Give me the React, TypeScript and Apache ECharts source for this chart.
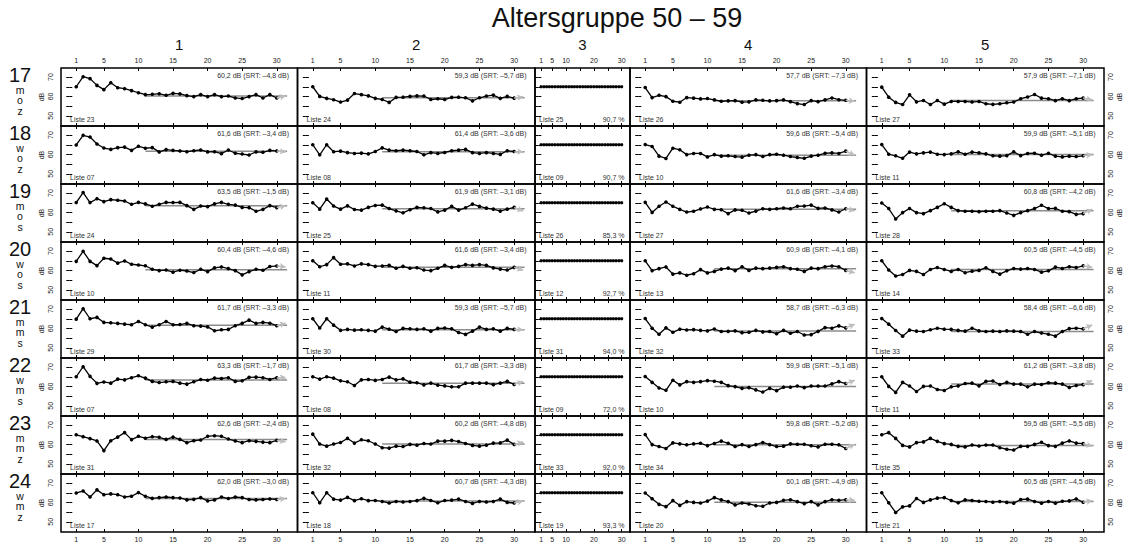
import React, { useEffect, useRef } from 'react';
import * as echarts from 'echarts';

const FONT = '"Liberation Sans", Arial, Helvetica, sans-serif';

// ---- labels ----
const groupTitle = 'Altersgruppe 50 – 59';
const columnLabels = ['1', '2', '3', '4', '5'];
const rowIds = ['17', '18', '19', '20', '21', '22', '23', '24'];
const rowCodes = [
  ['m', 'o', 'z'], ['w', 'o', 'z'], ['m', 'o', 's'], ['w', 'o', 's'],
  ['m', 'm', 's'], ['w', 'm', 's'], ['m', 'm', 'z'], ['w', 'm', 'z'],
];
const trialTicks = [1, 5, 10, 15, 20, 25, 30];
const trialLabelsNarrow = [1, 5, 10, 20, 30];
const levelTicks = [50, 55, 60, 65, 70];
const levelLabels = [50, 60, 70];
const noiseLevel = 65;

// ---- test lists per column ----
const listsCol1 = ['23', '07', '24', '10', '29', '07', '31', '17'];
const listsCol2 = ['24', '08', '25', '11', '30', '08', '32', '18'];
const listsCol3 = ['25', '09', '26', '12', '31', '09', '33', '19'];
const listsCol4 = ['26', '10', '27', '13', '32', '10', '34', '20'];
const listsCol5 = ['27', '11', '28', '14', '33', '11', '35', '21'];

// ---- final speech levels (dB), mean of trials 11-30 ----
const thresholdsCol1 = [60.2, 61.6, 63.5, 60.4, 61.7, 63.3, 62.6, 62.0];
const thresholdsCol2 = [59.3, 61.4, 61.9, 61.6, 59.3, 61.7, 60.2, 60.7];
const thresholdsCol4 = [57.7, 59.6, 61.6, 60.9, 58.7, 59.9, 59.8, 60.1];
const thresholdsCol5 = [57.9, 59.9, 60.8, 60.5, 58.4, 61.2, 59.5, 60.5];

// ---- level that would follow trial 30 ----
const nextLevelCol1 = [60.2, 61.3, 63.5, 61.8, 62.7, 64.7, 61.4, 62.0];
const nextLevelCol2 = [59.8, 61.4, 60.7, 60.1, 59.3, 62.6, 61.2, 60.7];
const nextLevelCol4 = [57.5, 59.6, 60.9, 58.8, 62.1, 63.2, 60.1, 61.1];
const nextLevelCol5 = [58.2, 59.9, 61.7, 61.5, 61.8, 63.1, 59.0, 61.0];

// ---- fixed-level word test ----
const fixedLevels = [65, 65, 65, 65, 65, 65, 65, 65, 65, 65, 65, 65, 65, 65, 65, 65, 65, 65, 65, 65, 65, 65, 65, 65, 65, 65, 65, 65, 65, 65];
const scoresCol3 = [90.7, 90.7, 85.3, 92.7, 94.0, 72.0, 92.0, 93.3];

// ---- adaptive tracks, 30 trials each ----
const levels17_1 = [65.0, 70.2, 69.2, 65.7, 63.5, 67.1, 64.5, 64.0, 63.0, 61.9, 60.9, 61.1, 61.4, 60.6, 61.6, 61.3, 60.4, 59.9, 60.9, 59.9, 60.9, 59.9, 60.2, 59.2, 58.9, 59.9, 60.9, 59.2, 60.9, 59.2];
const levels18_1 = [64.9, 69.9, 69.0, 65.4, 63.3, 62.6, 63.5, 63.8, 62.1, 64.2, 63.2, 63.5, 61.3, 62.5, 62.1, 61.8, 61.4, 61.9, 62.3, 61.3, 61.4, 60.4, 62.3, 60.6, 60.2, 59.7, 61.3, 61.1, 62.1, 61.8];
const levels19_1 = [65.1, 70.3, 65.1, 67.1, 65.6, 66.6, 66.3, 65.9, 64.2, 65.2, 64.4, 63.2, 64.2, 65.2, 65.1, 65.2, 63.5, 61.6, 63.3, 63.0, 64.4, 65.2, 64.2, 63.8, 62.6, 62.5, 60.6, 61.6, 63.5, 62.5];
const levels20_1 = [64.7, 69.9, 64.7, 62.5, 66.3, 65.9, 63.8, 64.9, 63.2, 62.8, 62.4, 60.6, 59.9, 60.2, 59.1, 60.1, 59.7, 58.9, 60.6, 59.4, 61.3, 61.8, 60.9, 59.9, 57.7, 59.4, 60.6, 60.1, 62.0, 62.3];
const levels21_1 = [64.8, 70.2, 65.0, 65.7, 63.1, 62.9, 62.6, 62.2, 61.9, 63.6, 61.9, 60.7, 61.9, 63.6, 61.9, 62.0, 62.6, 61.4, 61.2, 60.8, 58.8, 59.3, 59.5, 61.4, 62.6, 64.3, 62.6, 63.1, 62.7, 61.4];
const levels22_1 = [65.0, 70.2, 65.2, 61.6, 62.3, 61.7, 63.8, 63.4, 64.5, 65.5, 64.3, 62.6, 62.0, 62.4, 62.6, 61.7, 61.2, 62.4, 63.6, 63.2, 64.3, 64.1, 64.5, 62.6, 62.9, 64.7, 64.8, 64.5, 63.6, 64.5];
const levels23_1 = [65.0, 64.0, 63.0, 61.8, 56.8, 61.9, 63.8, 66.1, 62.5, 64.2, 63.2, 64.0, 63.7, 62.6, 63.8, 62.6, 60.9, 61.9, 62.3, 64.2, 64.5, 64.2, 62.8, 61.8, 60.9, 61.9, 61.6, 61.2, 60.9, 62.1];
const levels24_1 = [64.9, 65.9, 62.8, 66.5, 64.0, 64.4, 64.0, 62.8, 63.2, 65.1, 63.2, 62.1, 62.5, 62.8, 62.5, 62.3, 61.3, 61.6, 62.5, 60.8, 61.3, 62.8, 62.0, 62.8, 62.5, 61.5, 61.3, 61.5, 61.8, 61.5];

const levels17_2 = [65.0, 60.0, 59.0, 58.3, 57.1, 58.1, 61.5, 60.9, 60.3, 59.0, 58.4, 56.9, 59.5, 59.6, 60.0, 60.3, 60.2, 58.4, 58.8, 58.4, 59.5, 59.6, 59.3, 57.7, 59.3, 60.2, 60.7, 59.0, 60.0, 59.1];
const levels18_2 = [65.0, 59.8, 65.0, 61.4, 61.7, 60.9, 60.5, 60.7, 60.3, 61.5, 63.4, 62.2, 61.9, 62.2, 61.9, 61.5, 59.8, 60.9, 60.5, 61.0, 61.9, 62.2, 62.6, 60.9, 60.5, 60.9, 60.5, 60.0, 61.9, 61.5];
const levels19_2 = [65.0, 61.7, 66.9, 63.3, 61.7, 63.4, 61.5, 61.2, 62.6, 63.6, 63.8, 62.0, 60.8, 59.8, 61.4, 62.6, 62.4, 62.0, 60.3, 61.2, 63.1, 61.2, 62.4, 64.3, 63.1, 62.2, 61.7, 60.7, 61.7, 62.6];
const levels20_2 = [65.0, 61.9, 63.0, 66.6, 63.2, 63.4, 62.3, 63.4, 63.0, 62.1, 62.3, 62.6, 61.1, 62.1, 61.1, 61.4, 60.2, 59.9, 61.1, 62.6, 61.6, 62.1, 63.0, 62.6, 63.0, 62.6, 61.3, 60.7, 60.2, 61.6];
const levels21_2 = [65.0, 60.2, 65.0, 61.7, 59.0, 59.5, 59.1, 59.3, 59.0, 58.6, 60.7, 59.6, 58.4, 60.0, 59.8, 59.5, 59.8, 58.6, 60.0, 60.2, 59.8, 57.9, 56.9, 58.6, 60.7, 59.5, 59.8, 58.6, 60.0, 59.5];
const levels22_2 = [65.0, 63.8, 65.0, 64.3, 62.9, 62.4, 60.5, 63.4, 63.6, 63.1, 63.6, 64.8, 63.4, 63.9, 62.2, 61.9, 60.8, 61.7, 60.7, 60.3, 59.8, 59.8, 61.7, 61.7, 61.7, 61.7, 60.9, 61.7, 62.6, 61.0];
const levels23_2 = [65.3, 60.2, 59.1, 60.2, 61.0, 63.1, 60.7, 62.4, 61.9, 60.2, 58.3, 58.1, 59.1, 58.9, 60.0, 59.6, 60.5, 60.2, 61.7, 61.7, 62.1, 61.5, 60.5, 59.5, 59.1, 59.6, 60.7, 60.8, 62.2, 60.0];
const levels24_2 = [65.0, 59.8, 65.0, 61.7, 61.2, 62.6, 60.9, 61.9, 60.9, 61.0, 60.5, 59.7, 60.5, 60.2, 60.5, 60.9, 62.1, 61.0, 59.8, 61.0, 61.2, 61.7, 60.5, 59.5, 60.5, 60.2, 60.5, 61.7, 60.0, 59.7];

const levels17_4 = [64.6, 59.4, 60.6, 59.9, 57.5, 57.0, 59.4, 59.1, 58.7, 58.9, 58.2, 57.5, 57.7, 57.8, 57.0, 57.2, 58.2, 58.0, 57.7, 57.8, 58.2, 57.3, 56.3, 55.8, 57.8, 57.3, 58.2, 59.2, 58.3, 58.0];
const levels18_4 = [65.1, 64.1, 59.1, 57.9, 63.2, 62.4, 59.9, 60.5, 60.5, 58.7, 59.9, 59.1, 59.3, 58.9, 58.6, 59.6, 59.9, 58.9, 59.9, 60.1, 59.6, 58.9, 58.4, 58.0, 59.1, 59.6, 60.6, 60.8, 60.5, 61.7];
const levels19_4 = [65.2, 60.0, 63.2, 65.4, 63.2, 61.6, 60.2, 60.6, 61.8, 62.8, 61.6, 61.4, 59.4, 61.3, 61.1, 59.7, 60.7, 61.9, 61.6, 61.9, 62.3, 61.9, 63.2, 63.3, 63.8, 62.1, 62.3, 61.3, 60.2, 61.9];
const levels20_4 = [65.0, 59.9, 60.9, 61.8, 58.1, 58.7, 57.5, 58.3, 60.4, 58.7, 59.5, 60.7, 61.2, 59.9, 61.9, 60.0, 61.2, 60.9, 61.2, 61.6, 61.9, 60.9, 60.6, 59.5, 61.2, 60.9, 61.9, 62.3, 61.9, 60.0];
const levels21_4 = [65.1, 60.1, 57.0, 60.3, 58.0, 59.6, 59.2, 59.4, 59.0, 58.7, 59.7, 58.4, 58.5, 58.7, 57.8, 58.0, 59.0, 58.2, 58.4, 57.3, 59.0, 57.5, 58.4, 56.6, 56.8, 58.5, 60.4, 60.1, 61.3, 60.3];
const levels22_4 = [65.1, 62.1, 59.2, 58.0, 63.2, 60.8, 62.5, 62.1, 62.5, 63.0, 62.7, 62.1, 60.4, 59.9, 59.0, 59.4, 58.2, 57.1, 59.0, 57.8, 59.6, 59.6, 60.2, 59.4, 60.2, 60.2, 60.2, 61.3, 62.5, 61.5];
const levels23_4 = [65.1, 59.9, 58.9, 57.9, 60.8, 60.3, 59.8, 60.3, 60.6, 59.4, 60.5, 61.7, 60.6, 58.9, 59.9, 58.9, 59.9, 61.0, 59.9, 58.9, 59.1, 60.3, 60.1, 60.1, 59.3, 58.7, 60.1, 60.1, 59.8, 57.9];
const levels24_4 = [64.9, 61.9, 59.0, 57.8, 60.9, 58.5, 60.4, 60.0, 59.7, 60.7, 62.5, 61.3, 60.4, 58.7, 59.7, 59.2, 58.3, 58.0, 59.7, 60.0, 61.1, 61.4, 60.4, 59.4, 60.4, 58.7, 60.4, 61.4, 61.1, 61.4];

const levels17_5 = [64.8, 59.6, 56.9, 55.8, 60.8, 57.2, 57.9, 55.8, 57.9, 56.0, 57.4, 57.4, 57.4, 57.1, 57.4, 56.2, 55.9, 56.2, 56.7, 57.1, 58.8, 59.7, 61.0, 59.1, 58.8, 57.8, 58.8, 57.8, 58.8, 59.1];
const levels18_5 = [65.1, 60.1, 59.3, 58.0, 61.2, 60.3, 60.8, 61.2, 60.1, 59.9, 60.3, 61.3, 60.1, 61.2, 60.8, 60.3, 59.3, 59.1, 59.4, 61.3, 59.4, 60.5, 60.6, 59.6, 60.6, 59.1, 58.7, 59.1, 58.9, 59.3];
const levels19_5 = [64.9, 62.0, 56.6, 59.9, 62.0, 59.9, 59.4, 60.9, 62.6, 64.5, 62.6, 60.9, 60.6, 60.6, 60.4, 60.6, 60.6, 60.9, 59.7, 58.5, 59.9, 60.9, 62.0, 63.7, 62.0, 62.1, 60.6, 60.4, 59.0, 59.4];
const levels20_5 = [65.0, 60.2, 57.1, 57.9, 60.0, 59.5, 57.9, 60.5, 61.5, 60.5, 59.5, 60.5, 58.8, 59.6, 60.0, 61.4, 59.5, 58.1, 59.8, 61.0, 60.7, 61.0, 60.5, 59.1, 59.8, 61.7, 61.0, 61.9, 61.5, 62.4];
const levels21_5 = [65.1, 62.2, 58.9, 56.0, 59.1, 58.6, 58.4, 59.3, 60.1, 59.6, 59.5, 59.0, 58.6, 60.1, 58.7, 58.4, 58.6, 58.4, 58.7, 58.6, 58.4, 57.0, 58.4, 57.6, 57.0, 56.0, 58.4, 59.9, 60.1, 59.8];
const levels22_5 = [65.0, 60.0, 56.9, 62.1, 60.2, 57.4, 60.0, 60.2, 58.4, 57.9, 59.8, 60.3, 61.5, 61.7, 60.3, 62.6, 62.8, 61.0, 62.1, 61.2, 61.2, 59.8, 61.2, 61.0, 61.9, 61.7, 61.2, 59.5, 60.5, 60.9];
const levels23_5 = [65.0, 66.1, 63.1, 59.5, 58.7, 60.9, 61.3, 63.1, 61.6, 60.4, 60.0, 59.0, 58.7, 59.7, 59.2, 59.7, 59.7, 58.3, 57.5, 57.1, 59.0, 59.0, 60.0, 61.1, 59.4, 59.0, 60.7, 61.8, 60.7, 60.4];
const levels24_5 = [65.0, 59.8, 54.8, 57.7, 58.2, 62.0, 60.0, 61.3, 62.2, 62.5, 61.0, 59.8, 61.3, 61.0, 60.6, 60.5, 60.1, 60.5, 60.0, 59.6, 61.5, 61.7, 60.5, 59.6, 60.5, 59.6, 60.6, 60.8, 61.8, 60.1];

const tracksCol1 = [levels17_1, levels18_1, levels19_1, levels20_1, levels21_1, levels22_1, levels23_1, levels24_1];
const tracksCol2 = [levels17_2, levels18_2, levels19_2, levels20_2, levels21_2, levels22_2, levels23_2, levels24_2];
const tracksCol4 = [levels17_4, levels18_4, levels19_4, levels20_4, levels21_4, levels22_4, levels23_4, levels24_4];
const tracksCol5 = [levels17_5, levels18_5, levels19_5, levels20_5, levels21_5, levels22_5, levels23_5, levels24_5];

// column index -> adaptive data (column 3 is the fixed-level test)
const adaptive: Record<number, { tracks: number[][]; means: number[]; next: number[]; lists: string[] }> = {
  0: { tracks: tracksCol1, means: thresholdsCol1, next: nextLevelCol1, lists: listsCol1 },
  1: { tracks: tracksCol2, means: thresholdsCol2, next: nextLevelCol2, lists: listsCol2 },
  3: { tracks: tracksCol4, means: thresholdsCol4, next: nextLevelCol4, lists: listsCol4 },
  4: { tracks: tracksCol5, means: thresholdsCol5, next: nextLevelCol5, lists: listsCol5 },
};

// ---- layout ----
const COL_LEFT = [61, 297.5, 535, 630, 866.5];
const COL_RIGHT = [297.5, 535, 630, 866.5, 1104];
const ROW_TOP = 68;
const ROW_H = 58;
const X_MIN = -1.2;
const X_MAX = 33;
const Y_MIN = 44.7;
const Y_MAX = 74.7;

const dec = (v: number) => {
  const r = Math.round(v * 10) / 10;
  return (r < 0 ? '–' : '') + Math.abs(r).toFixed(1).replace('.', ',');
};

const textStyle = (text: string, font: string, align: string, vAlign: string, fill = '#111', extra: any = {}) => ({
  text, fill, font, align, verticalAlign: vAlign, textAlign: align, textVerticalAlign: vAlign, ...extra,
});

function buildOption() {
  const grid: any[] = [];
  const xAxis: any[] = [];
  const yAxis: any[] = [];
  const series: any[] = [];
  const graphic: any[] = [];

  const tickStyle = { color: '#000', width: 1 };
  const labelStyle = { fontSize: 7, color: '#222', fontFamily: FONT };

  graphic.push({ type: 'text', x: 617, y: 18, style: textStyle(groupTitle, `27px ${FONT}`, 'center', 'middle') });
  columnLabels.forEach((t, c) => {
    graphic.push({
      type: 'text', x: (COL_LEFT[c] + COL_RIGHT[c]) / 2, y: 44,
      style: textStyle(t, `15px ${FONT}`, 'center', 'middle'),
    });
  });

  for (let r = 0; r < 8; r++) {
    const top = ROW_TOP + r * ROW_H;
    graphic.push({
      type: 'text', x: 20, y: top + 6.5,
      style: textStyle(rowIds[r], `20px ${FONT}`, 'center', 'middle', '#111', { lineHeight: 18 }),
    });
    // the three group letters, stacked one per line
    rowCodes[r].forEach((ch, k) => {
      graphic.push({
        type: 'text', x: 20, y: top + 21.5 + k * 10.5,
        style: textStyle(ch, `10.5px ${FONT}`, 'center', 'middle', '#111', { lineHeight: 10.5 }),
      });
    });

    for (let c = 0; c < 5; c++) {
      const g = r * 5 + c;
      const left = COL_LEFT[c];
      const right = COL_RIGHT[c];
      const bottom = top + ROW_H;
      const narrow = c === 2;

      grid.push({
        left, top, width: right - left, height: ROW_H,
        show: true, borderColor: '#000', borderWidth: 1.5, backgroundColor: 'transparent',
      });

      const xBase = {
        gridIndex: g, type: 'value', min: X_MIN, max: X_MAX,
        axisLine: { show: false }, splitLine: { show: false },
        axisTick: { show: true, inside: true, length: 3, lineStyle: tickStyle, customValues: trialTicks },
      };
      xAxis.push({
        ...xBase, position: 'bottom',
        axisLabel: { ...labelStyle, show: r === 7, margin: 4, customValues: narrow ? trialLabelsNarrow : trialTicks },
      });
      xAxis.push({
        ...xBase, position: 'top',
        axisLabel: { ...labelStyle, show: r === 0, margin: 4, customValues: narrow ? trialLabelsNarrow : trialTicks },
      });

      const yBase = {
        gridIndex: g, type: 'value', min: Y_MIN, max: Y_MAX,
        axisLine: { show: false }, splitLine: { show: false },
        axisTick: { show: true, inside: true, length: 3, lineStyle: tickStyle, customValues: levelTicks },
        nameLocation: 'middle', nameRotate: 90,
        nameTextStyle: { fontSize: 7, color: '#222', fontFamily: FONT },
      };
      yAxis.push({
        ...yBase, position: 'left',
        name: c === 0 ? 'dB' : '', nameGap: 16,
        axisLabel: { ...labelStyle, show: c === 0, rotate: 90, margin: 7, customValues: levelLabels },
      });
      yAxis.push({
        ...yBase, position: 'right',
        name: c === 4 ? 'dB' : '', nameGap: 12,
        axisLabel: { ...labelStyle, show: c === 4, rotate: 90, margin: 3, customValues: levelLabels },
      });

      const axisRef = { xAxisIndex: 2 * g, yAxisIndex: 2 * g };

      if (narrow) {
        series.push({
          ...axisRef, type: 'line', z: 3, silent: true,
          data: fixedLevels.map((v, i) => [i + 1, v]),
          symbol: 'circle', symbolSize: 3.2, showSymbol: true,
          lineStyle: { color: '#000', width: 1.2 }, itemStyle: { color: '#000' },
        });
        graphic.push({
          type: 'text', x: left + 4, y: bottom - 7,
          style: textStyle(`Liste ${listsCol3[r]}`, `7px ${FONT}`, 'left', 'middle', '#333'),
        });
        graphic.push({
          type: 'text', x: right - 5.5, y: bottom - 7,
          style: textStyle(`${dec(scoresCol3[r])} %`, `7px ${FONT}`, 'right', 'middle', '#333'),
        });
        continue;
      }

      const col = adaptive[c];
      const track = col.tracks[r];
      const mean = col.means[r];
      const next = col.next[r];

      // mean of the final trials, with the following level as an arrow
      series.push({
        ...axisRef, type: 'line', z: 1, silent: true,
        data: [[11, mean], [31.5, mean]],
        symbol: 'none', showSymbol: false,
        lineStyle: { color: '#8c8c8c', width: 1.5 },
        markLine: {
          silent: true, animation: false, symbol: ['none', 'arrow'], symbolSize: [5, 6],
          label: { show: false },
          lineStyle: { color: '#bdbdbd', width: 1.6, type: 'solid' },
          emphasis: { disabled: true },
          data: [[{ coord: [30, track[29]] }, { coord: [31.3, next] }]],
        },
      });
      series.push({
        ...axisRef, type: 'line', z: 3, silent: true,
        data: track.map((v, i) => [i + 1, v]),
        symbol: 'circle', symbolSize: 3.6, showSymbol: true,
        lineStyle: { color: '#000', width: 1.3 }, itemStyle: { color: '#000' },
      });

      graphic.push({
        type: 'text', x: right - 8.5, y: top + 7,
        style: textStyle(`${dec(mean)} dB (SRT: ${dec(mean - noiseLevel)} dB)`, `7px ${FONT}`, 'right', 'middle', '#333'),
      });
      graphic.push({
        type: 'text', x: left + 9, y: bottom - 7,
        style: textStyle(`Liste ${col.lists[r]}`, `7px ${FONT}`, 'left', 'middle', '#333'),
      });
    }
  }

  return {
    animation: false,
    backgroundColor: '#fff',
    textStyle: { fontFamily: FONT },
    grid, xAxis, yAxis, series, graphic,
  };
}

export default function App() {
  const ref = useRef<HTMLDivElement>(null);
  useEffect(() => {
    if (!ref.current) return;
    const chart = echarts.init(ref.current, undefined, { renderer: 'svg' });
    chart.setOption(buildOption() as any);
    return () => chart.dispose();
  }, []);
  return (
    <div
      ref={ref}
      style={{ position: 'fixed', left: 0, top: 0, width: 1128, height: 545, background: '#fff' }}
    />
  );
}
